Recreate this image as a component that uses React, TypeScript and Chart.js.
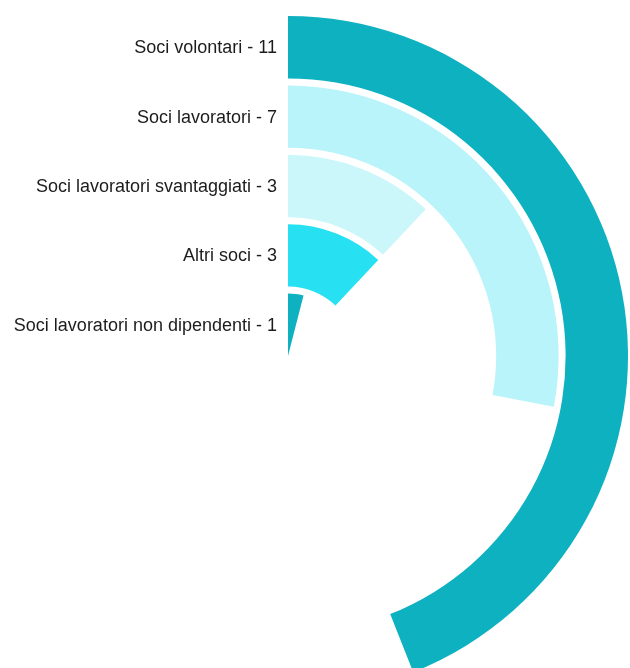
import React, { useEffect, useRef } from "react";
import { Chart, registerables } from "chart.js";

Chart.register(...registerables);

const categories = [
  "Soci volontari",
  "Soci lavoratori",
  "Soci lavoratori svantaggiati",
  "Altri soci",
  "Soci lavoratori non dipendenti",
];
const values = [11, 7, 3, 3, 1];
const colors = ["#0eb1c0", "#b8f4f9", "#ccf7fa", "#27e1f2", "#0eb1c0"];

const total = values.reduce((a, b) => a + b, 0);

export default function App() {
  const ref = useRef<HTMLCanvasElement | null>(null);

  useEffect(() => {
    if (!ref.current) return;
    const datasets: any[] = [];
    values.forEach((v, i) => {
      if (i > 0) {
        datasets.push({
          label: "spacer" + i,
          data: [1],
          backgroundColor: ["rgba(0,0,0,0)"],
          borderWidth: 0,
          weight: 7,
          isSpacer: true,
        });
      }
      datasets.push({
        label: categories[i],
        data: [v, total - v],
        backgroundColor: [colors[i], "rgba(0,0,0,0)"],
        borderWidth: 0,
        weight: 62.4,
        seriesIndex: i,
      });
    });

    const labelPlugin = {
      id: "ringLabels",
      afterDatasetsDraw(chart: any) {
        const ctx = chart.ctx;
        ctx.save();
        ctx.font = '18px "Liberation Sans", Arial, sans-serif';
        ctx.fillStyle = "#1c1c1c";
        ctx.textAlign = "right";
        ctx.textBaseline = "middle";
        chart.data.datasets.forEach((ds: any, di: number) => {
          if (ds.isSpacer) return;
          const meta = chart.getDatasetMeta(di);
          const arc: any = meta.data[0];
          if (!arc) return;
          const r = (arc.innerRadius + arc.outerRadius) / 2;
          const idx = ds.seriesIndex;
          ctx.fillText(categories[idx] + " - " + values[idx], arc.x - 11, arc.y - r + 1);
        });
        ctx.restore();
      },
    };

    const chart = new Chart(ref.current, {
      type: "doughnut",
      data: { labels: ["value", "rest"], datasets },
      options: {
        animation: false,
        responsive: false,
        events: [],
        cutout: 0,
        layout: { padding: 0 },
        elements: { arc: { borderWidth: 0, offset: 0, hoverOffset: 0 } as any },
        plugins: {
          legend: { display: false },
          tooltip: { enabled: false },
        },
      } as any,
      plugins: [labelPlugin],
    });
    return () => chart.destroy();
  }, []);

  return (
    <div
      style={{
        position: "fixed",
        left: 0,
        top: 0,
        width: 630,
        height: 668,
        overflow: "hidden",
        background: "#ffffff",
      }}
    >
      <canvas
        ref={ref}
        width={680}
        height={680}
        style={{ position: "absolute", left: -52, top: 16, width: 680, height: 680 }}
      />
    </div>
  );
}
